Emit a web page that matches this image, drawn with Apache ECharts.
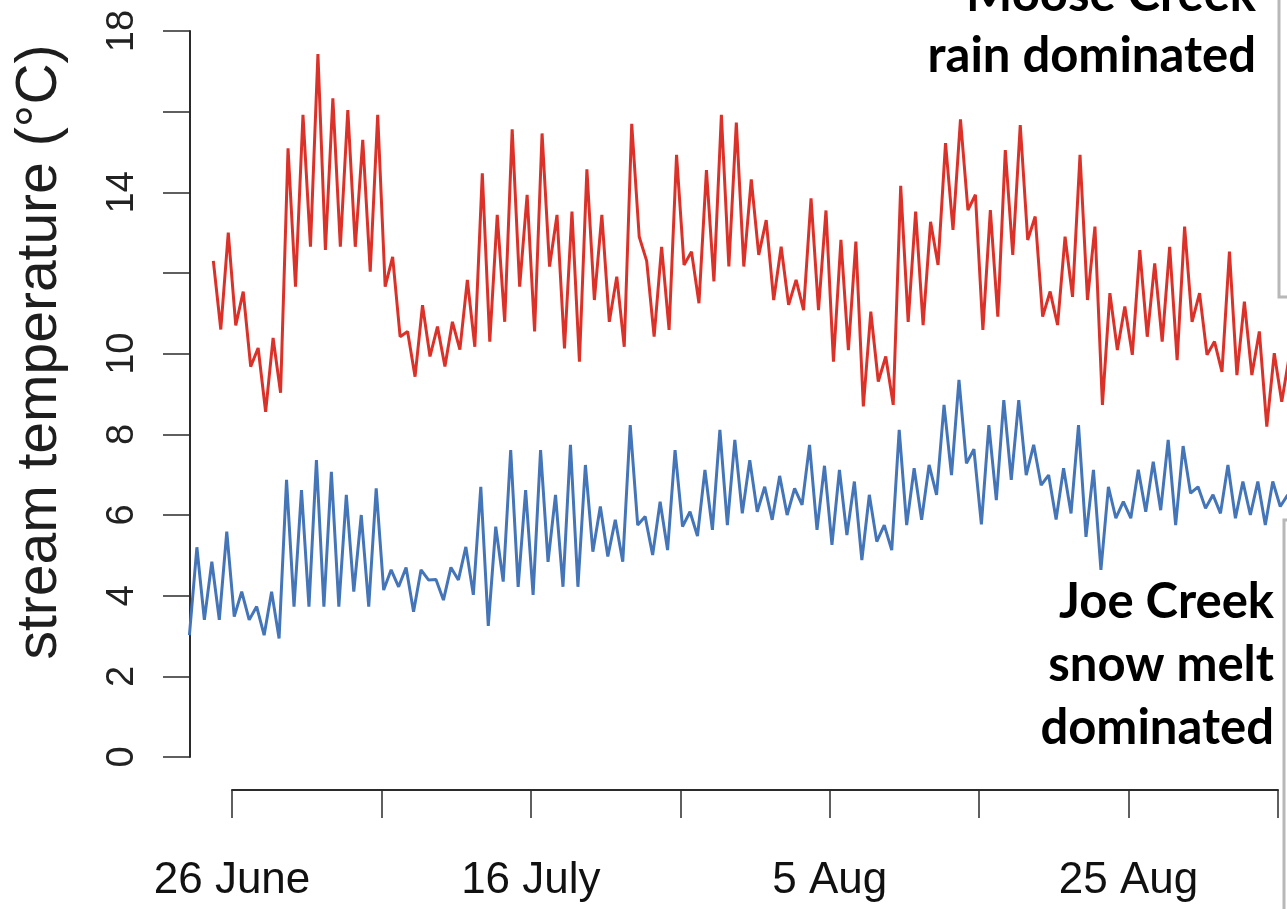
<!DOCTYPE html>
<html>
<head>
<meta charset="utf-8">
<script src="https://cdn.jsdelivr.net/npm/echarts@6/dist/echarts.min.js"></script>
<style>
html,body{margin:0;padding:0;background:#fff;}
#chart{width:1287px;height:909px;}
</style>
</head>
<body>
<div id="chart"></div>
<script>
// ---- data (days since 26 June; two readings per day: night low, afternoon high) ----
const sampleStep = 0.5;
const mooseStart = -1.25;
const joeStart = -2.85;
const mooseCreek = [12.3, 10.6, 13.0, 10.7, 11.54, 9.68, 10.14, 8.56, 10.39, 9.03,
  15.09, 11.66, 15.92, 12.65, 17.43, 12.57, 16.33, 12.65, 16.04, 12.65,
  15.3, 12.03, 15.92, 11.66, 12.4, 10.42, 10.55, 9.43, 11.2, 9.93,
  10.67, 9.68, 10.79, 10.1, 11.83, 10.17, 14.47, 10.3, 13.44, 10.79,
  15.56, 11.66, 13.94, 10.55, 15.46, 12.16, 13.44, 10.13, 13.52, 9.8,
  14.57, 11.33, 13.44, 10.79, 11.91, 10.17, 15.7, 12.9, 12.3, 10.42,
  12.65, 10.59, 14.93, 12.2, 12.53, 11.25, 14.55, 11.79, 15.92, 12.16,
  15.73, 12.16, 14.32, 12.45, 13.31, 11.33, 12.65, 11.21, 11.83, 11.08,
  13.85, 11.08, 13.55, 9.8, 12.82, 10.09, 12.78, 8.69, 11.04, 9.31,
  9.93, 8.73, 14.16, 10.79, 13.52, 10.71, 13.27, 12.2, 15.22, 13.07,
  15.81, 13.56, 13.94, 10.59, 13.56, 10.92, 15.05, 12.45, 15.67, 12.82,
  13.4, 10.92, 11.54, 10.71, 12.9, 11.41, 14.93, 11.33, 13.15, 8.73,
  11.5, 10.09, 11.17, 9.97, 12.57, 10.42, 12.24, 10.3, 12.65, 9.84,
  13.15, 10.79, 11.5, 9.97, 10.3, 9.55, 12.53, 9.47, 11.29, 9.47,
  10.55, 8.19, 10.01, 8.81, 9.93];
const joeCreek = [3.02, 5.2, 3.4, 4.84, 3.4, 5.59, 3.48, 4.1, 3.4, 3.73,
  3.02, 4.1, 2.94, 6.87, 3.73, 6.62, 3.73, 7.36, 3.73, 7.07,
  3.73, 6.5, 4.1, 6.0, 3.73, 6.66, 4.14, 4.64, 4.22, 4.7,
  3.6, 4.64, 4.39, 4.4, 3.89, 4.7, 4.39, 5.21, 4.02, 6.7,
  3.25, 5.71, 4.35, 7.61, 4.22, 6.62, 4.02, 7.61, 4.84, 6.5,
  4.22, 7.74, 4.22, 7.24, 5.09, 6.21, 4.97, 5.88, 4.84, 8.23,
  5.75, 5.96, 5.01, 6.33, 5.13, 7.61, 5.71, 6.08, 5.48, 7.12,
  5.63, 8.11, 5.75, 7.86, 6.04, 7.36, 6.08, 6.7, 5.88, 6.97,
  6.0, 6.66, 6.25, 7.74, 5.63, 7.22, 5.26, 7.12, 5.5, 6.83,
  4.88, 6.5, 5.34, 5.75, 5.13, 8.11, 5.75, 7.16, 5.88, 7.24,
  6.5, 8.73, 6.99, 9.35, 7.28, 7.63, 5.77, 8.23, 6.37, 8.85,
  6.87, 8.85, 6.99, 7.74, 6.74, 6.99, 5.89, 7.16, 6.04, 8.23,
  5.46, 7.12, 4.64, 6.7, 5.92, 6.33, 5.92, 7.12, 6.08, 7.32,
  6.12, 7.86, 5.75, 7.71, 6.54, 6.7, 6.17, 6.5, 6.04, 7.24,
  5.92, 6.83, 6.0, 6.83, 5.75, 6.83, 6.21, 6.5];
const xTickLabels = ['26 June', '', '16 July', '', '5 Aug', '', '25 Aug', ''];
const yHiddenLabels = [12, 16];

const mooseData = mooseCreek.map((v, i) => [mooseStart + i * sampleStep, v]);
const joeData = joeCreek.map((v, i) => [joeStart + i * sampleStep, v]);

const chart = echarts.init(document.getElementById('chart'), null, {renderer: 'canvas'});
const axisColor = '#2b2b2b';
const textFont = 'Liberation Sans, Arial, sans-serif';
const noteFont = 'bold 49px Lato, "Open Sans", sans-serif';

chart.setOption({
  animation: false,
  backgroundColor: '#ffffff',
  grid: [
    {left: 190, right: 0, top: 31, bottom: 152},
    {left: 232, right: 9, top: 31, bottom: 152}
  ],
  xAxis: [
    {type: 'value', gridIndex: 0, min: -2.811, max: 70.602, show: false},
    {type: 'value', gridIndex: 1, min: 0, max: 70, interval: 10, offset: 33,
      position: 'bottom',
      axisLine: {show: true, onZero: false, lineStyle: {color: axisColor, width: 2}},
      axisTick: {show: true, length: 28, lineStyle: {color: axisColor, width: 1.5}},
      splitLine: {show: false},
      axisLabel: {show: true, margin: 69, color: '#111', fontFamily: textFont, fontSize: 44,
        showMinLabel: true, showMaxLabel: true,
        formatter: v => xTickLabels[Math.round(v / 10)] || ''}}
  ],
  yAxis: [
    {type: 'value', gridIndex: 0, min: 0, max: 18, interval: 2, position: 'left',
      axisLine: {show: true, onZero: false, lineStyle: {color: axisColor, width: 2}},
      axisTick: {show: true, length: 27, lineStyle: {color: axisColor, width: 1.5}},
      splitLine: {show: false},
      axisLabel: {show: true, rotate: 90, margin: 48, color: '#222', fontFamily: textFont, fontSize: 38,
        formatter: v => yHiddenLabels.includes(v) ? '' : String(v)}},
    {type: 'value', gridIndex: 1, min: 0, max: 18, show: false}
  ],
  series: [
    {name: 'Moose Creek', type: 'line', xAxisIndex: 0, yAxisIndex: 0, data: mooseData,
      showSymbol: false, symbol: 'none', clip: true,
      lineStyle: {color: '#dc3128', width: 3}},
    {name: 'Joe Creek', type: 'line', xAxisIndex: 0, yAxisIndex: 0, data: joeData,
      showSymbol: false, symbol: 'none', clip: true,
      lineStyle: {color: '#4475b8', width: 3}}
  ],
  graphic: [
    {type: 'text', x: 40, y: 352, rotation: Math.PI / 2,
      style: {text: 'stream temperature (\u00B0C)', font: '57px ' + textFont, fill: '#1e1e1e',
        textAlign: 'center', textVerticalAlign: 'middle'}},
    {type: 'text', x: 1256, y: -5,
      style: {text: 'Moose Creek', font: noteFont, fill: '#000', textAlign: 'right', textVerticalAlign: 'middle'}},
    {type: 'text', x: 1256, y: 56,
      style: {text: 'rain dominated', font: noteFont, fill: '#000', textAlign: 'right', textVerticalAlign: 'middle'}},
    {type: 'text', x: 1274, y: 602,
      style: {text: 'Joe Creek', font: noteFont, fill: '#000', textAlign: 'right', textVerticalAlign: 'middle'}},
    {type: 'text', x: 1274, y: 665,
      style: {text: 'snow melt', font: noteFont, fill: '#000', textAlign: 'right', textVerticalAlign: 'middle'}},
    {type: 'text', x: 1274, y: 728,
      style: {text: 'dominated', font: noteFont, fill: '#000', textAlign: 'right', textVerticalAlign: 'middle'}},
    {type: 'polyline', shape: {points: [[1279, 0], [1279, 297], [1287, 297]]},
      style: {stroke: '#b8b8b8', lineWidth: 3, fill: null}},
    {type: 'polyline', shape: {points: [[1287, 520], [1284, 520], [1284, 909]]},
      style: {stroke: '#b8b8b8', lineWidth: 3, fill: null}}
  ]
});
</script>
</body>
</html>
